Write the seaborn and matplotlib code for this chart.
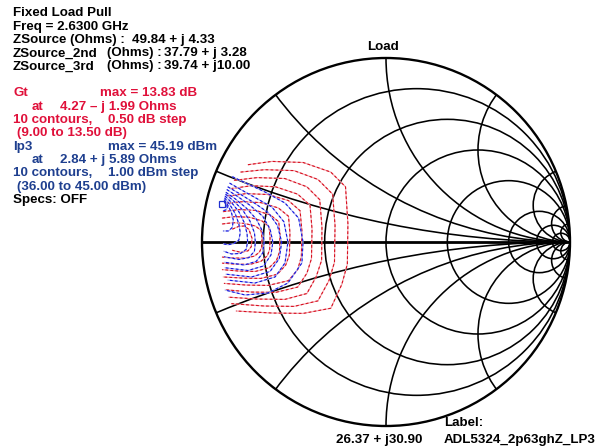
import numpy as np
import pandas as pd
import matplotlib
matplotlib.use("Agg")
import matplotlib.pyplot as plt
from matplotlib.patches import Circle
import seaborn as sns

# ---------------- data ----------------
z0 = 50.0
r_values = [0.2, 0.5, 1.0, 2.0, 5.0, 10.0, 20.0]
x_values = [0.2, 0.5, 1.0, 2.0, 5.0, 10.0, 20.0]

gt_levels = [9.0, 9.5, 10.0, 10.5, 11.0, 11.5, 12.0, 12.5, 13.0, 13.5]
ip3_levels = [36, 37, 38, 39, 40, 41, 42, 43, 44, 45]

gt_max_z = (4.27, -1.99)
ip3_max_z = (2.84, 5.89)
marker_z = (26.37, 30.90)

# contour traces (reflection coefficient re, im)
gt_contours = [
    [(-0.75, 0.42), (-0.62, 0.438), (-0.45, 0.432), (-0.30, 0.38), (-0.22, 0.30), (-0.207, 0.10),
     (-0.21, -0.12), (-0.24, -0.23), (-0.30, -0.36), (-0.45, -0.388), (-0.62, -0.386), (-0.815, -0.375)],
    [(-0.79, 0.38), (-0.66, 0.393), (-0.50, 0.388), (-0.37, 0.34), (-0.29, 0.26), (-0.277, 0.09),
     (-0.28, -0.11), (-0.31, -0.21), (-0.37, -0.32), (-0.50, -0.35), (-0.66, -0.348), (-0.84, -0.335)],
    [(-0.825, 0.335), (-0.70, 0.35), (-0.55, 0.345), (-0.43, 0.30), (-0.36, 0.23), (-0.348, 0.08),
     (-0.35, -0.10), (-0.38, -0.19), (-0.43, -0.28), (-0.55, -0.312), (-0.70, -0.31), (-0.855, -0.30)],
    [(-0.845, 0.29), (-0.73, 0.306), (-0.60, 0.30), (-0.48, 0.26), (-0.413, 0.20), (-0.402, 0.07),
     (-0.405, -0.09), (-0.43, -0.17), (-0.48, -0.245), (-0.60, -0.274), (-0.73, -0.272), (-0.87, -0.26)],
    [(-0.86, 0.25), (-0.76, 0.263), (-0.64, 0.258), (-0.53, 0.225), (-0.467, 0.17), (-0.457, 0.06),
     (-0.46, -0.08), (-0.48, -0.15), (-0.53, -0.21), (-0.64, -0.236), (-0.76, -0.234), (-0.88, -0.225)],
    [(-0.875, 0.21), (-0.78, 0.219), (-0.68, 0.214), (-0.585, 0.185), (-0.53, 0.14), (-0.522, 0.05),
     (-0.525, -0.07), (-0.545, -0.125), (-0.59, -0.175), (-0.68, -0.198), (-0.78, -0.196), (-0.885, -0.19)],
    [(-0.885, 0.165), (-0.80, 0.176), (-0.71, 0.172), (-0.63, 0.148), (-0.583, 0.11), (-0.576, 0.04),
     (-0.579, -0.055), (-0.595, -0.10), (-0.635, -0.14), (-0.71, -0.16), (-0.80, -0.158), (-0.89, -0.15)],
    [(-0.89, 0.13), (-0.82, 0.138), (-0.74, 0.134), (-0.675, 0.115), (-0.636, 0.085), (-0.630, 0.03),
     (-0.632, -0.04), (-0.645, -0.075), (-0.68, -0.105), (-0.74, -0.122), (-0.82, -0.12), (-0.89, -0.115)],
    [(-0.89, 0.098), (-0.83, 0.105), (-0.77, 0.101), (-0.71, 0.087), (-0.679, 0.063), (-0.674, 0.02),
     (-0.676, -0.03), (-0.688, -0.055), (-0.715, -0.077), (-0.77, -0.088), (-0.83, -0.087), (-0.89, -0.082)],
    [(-0.835, 0.07), (-0.80, 0.085), (-0.77, 0.087), (-0.745, 0.068), (-0.728, 0.02), (-0.732, -0.025),
     (-0.75, -0.048), (-0.79, -0.056), (-0.835, -0.045)],
]

ip3_contours = [
    [(-0.835, 0.355), (-0.74, 0.31), (-0.658, 0.272), (-0.549, 0.212), (-0.475, 0.13), (-0.451, 0.0),
     (-0.457, -0.114), (-0.533, -0.223), (-0.641, -0.277), (-0.766, -0.288), (-0.875, -0.261)],
    [(-0.85, 0.32), (-0.78, 0.28), (-0.70, 0.235), (-0.62, 0.19), (-0.555, 0.11), (-0.533, 0.0),
     (-0.549, -0.114), (-0.603, -0.19), (-0.712, -0.223), (-0.86, -0.207)],
    [(-0.86, 0.30), (-0.80, 0.265), (-0.72, 0.215), (-0.64, 0.16), (-0.59, 0.09), (-0.567, 0.0),
     (-0.58, -0.09), (-0.63, -0.16), (-0.73, -0.19), (-0.87, -0.175)],
    [(-0.865, 0.285), (-0.81, 0.25), (-0.74, 0.20), (-0.67, 0.14), (-0.63, 0.07), (-0.615, 0.0),
     (-0.625, -0.07), (-0.665, -0.13), (-0.75, -0.155), (-0.875, -0.14)],
    [(-0.87, 0.27), (-0.82, 0.235), (-0.76, 0.185), (-0.705, 0.125), (-0.672, 0.06), (-0.662, 0.0),
     (-0.67, -0.06), (-0.705, -0.105), (-0.77, -0.125), (-0.878, -0.11)],
    [(-0.872, 0.26), (-0.83, 0.225), (-0.78, 0.175), (-0.74, 0.115), (-0.715, 0.05), (-0.71, 0.0),
     (-0.715, -0.05), (-0.745, -0.085), (-0.80, -0.095), (-0.88, -0.08)],
    [(-0.875, 0.25), (-0.84, 0.215), (-0.80, 0.165), (-0.77, 0.105), (-0.755, 0.045), (-0.752, 0.0),
     (-0.76, -0.04), (-0.79, -0.062), (-0.84, -0.065), (-0.882, -0.05)],
    [(-0.877, 0.24), (-0.85, 0.205), (-0.82, 0.155), (-0.80, 0.10), (-0.792, 0.05), (-0.80, 0.01),
     (-0.83, -0.01), (-0.86, -0.015), (-0.884, -0.01)],
    [(-0.879, 0.23), (-0.86, 0.2), (-0.84, 0.16), (-0.83, 0.12), (-0.835, 0.08), (-0.855, 0.06), (-0.885, 0.06)],
    [(-0.881, 0.222), (-0.87, 0.205), (-0.862, 0.19), (-0.868, 0.175), (-0.885, 0.17)],
]

header_lines = ["Fixed Load Pull", "Freq = 2.6300 GHz"]
zsrc_names = ["ZSource (Ohms) :", "ZSource_2nd", "ZSource_3rd"]
zsrc_units = ["", "(Ohms) :", "(Ohms) :"]
zsrc_values = ["49.84 + j 4.33", "37.79 + j 3.28", "39.74 + j10.00"]

# ---------------- style ----------------
sns.set_style("white")
plt.rcParams['font.family'] = ['Liberation Sans', 'DejaVu Sans']

W, H = 595, 447
fig = plt.figure(figsize=(W / 100, H / 100), dpi=100)
cx, cy, R = 386, 242, 184
ax = fig.add_axes([(cx - R) / W, (H - cy - R) / H, 2 * R / W, 2 * R / H])
ax.set_xlim(-1, 1)
ax.set_ylim(-1, 1)
ax.axis('off')

RED = '#E0103A'
BLUE = '#1E3F8F'


def gamma(z):
    zn = complex(z[0], z[1]) / z0
    g = (zn - 1) / (zn + 1)
    return g.real, g.imag


# ---------------- Smith grid ----------------
unit = Circle((0, 0), 1, transform=ax.transData, fill=False)
for r in r_values:
    c = Circle((r / (1 + r), 0), 1 / (1 + r), fill=False, ec='black', lw=1.15, zorder=2)
    ax.add_patch(c)
for xv in x_values:
    for s in (1, -1):
        c = Circle((1, s / xv), 1 / xv, fill=False, ec='black', lw=1.15, zorder=2)
        ax.add_patch(c)
        c.set_clip_path(unit)
ax.plot([-1, 1], [0, 0], color='black', lw=2.0, zorder=3, solid_capstyle='butt')
ax.add_patch(Circle((0, 0), 1, fill=False, ec='black', lw=1.7, zorder=3, clip_on=False))

# ---------------- contours ----------------
for lvl, pts in zip(gt_levels, gt_contours):
    df = pd.DataFrame(pts, columns=['re', 'im'])
    sns.lineplot(data=df, x='re', y='im', sort=False, estimator=None, ax=ax,
                 color='#F2A0A8', lw=0.8, zorder=4, legend=False)
    sns.lineplot(data=df, x='re', y='im', sort=False, estimator=None, ax=ax,
                 color='#D81020', lw=0.8, zorder=5, legend=False, linestyle=(0, (2.5, 2.0)))
for lvl, pts in zip(ip3_levels, ip3_contours):
    df = pd.DataFrame(pts, columns=['re', 'im'])
    sns.lineplot(data=df, x='re', y='im', sort=False, estimator=None, ax=ax,
                 color='#A8B0F0', lw=0.8, zorder=6, legend=False)
    sns.lineplot(data=df, x='re', y='im', sort=False, estimator=None, ax=ax,
                 color='#1414E0', lw=0.8, zorder=7, legend=False, linestyle=(0, (2.5, 2.0)))

gx, gy = gamma(ip3_max_z)
ax.plot([gx - 0.02], [gy], marker='s', ms=5, mfc='none', mec='#2030D0', mew=0.9, zorder=8)
ax.set_xlabel('')
ax.set_ylabel('')

# ---------------- text ----------------
fs = 9.6


def t(x, y, s, color='black', ha='left'):
    fig.text(x / W, 1 - y / H, s, color=color, fontsize=fs, fontweight='bold', ha=ha, va='center')


t(13, 13, header_lines[0])
t(13, 26.7, header_lines[1])
t(13, 40, zsrc_names[0]); t(132, 40, zsrc_values[0])
t(13, 53.3, zsrc_names[1]); t(107, 53.3, zsrc_units[1]); t(164, 53.3, zsrc_values[1])
t(13, 66.3, zsrc_names[2]); t(107, 66.3, zsrc_units[2]); t(164, 66.3, zsrc_values[2])

t(13, 92.7, "Gt", RED); t(100, 92.7, f"max = {13.83:.2f} dB", RED)
t(32, 106.7, "at", RED); t(60, 106.7, f"{gt_max_z[0]:.2f} \u2013 j {abs(gt_max_z[1]):.2f} Ohms", RED)
t(13, 120, "10 contours,", RED); t(108, 120, "0.50 dB step", RED)
t(17, 133.3, f"({gt_levels[0]:.2f} to {gt_levels[-1]:.2f} dB)", RED)

t(13, 146.7, "Ip3", BLUE); t(108, 146.7, f"max = {45.19:.2f} dBm", BLUE)
t(32, 160, "at", BLUE); t(60, 160, f"{ip3_max_z[0]:.2f} + j {ip3_max_z[1]:.2f} Ohms", BLUE)
t(13, 173.3, "10 contours,", BLUE); t(108, 173.3, "1.00 dBm step", BLUE)
t(17, 186.7, f"({ip3_levels[0]:.2f} to {ip3_levels[-1]:.2f} dBm)", BLUE)
t(13, 200, "Specs: OFF")

t(383, 47, "Load", ha='center')
t(379, 440, f"{marker_z[0]:.2f} + j{marker_z[1]:.2f}", ha='center')
t(444, 423, "Label:")
t(444, 440, "ADL5324_2p63ghZ_LP3")

fig.savefig("out.png", dpi=100)
